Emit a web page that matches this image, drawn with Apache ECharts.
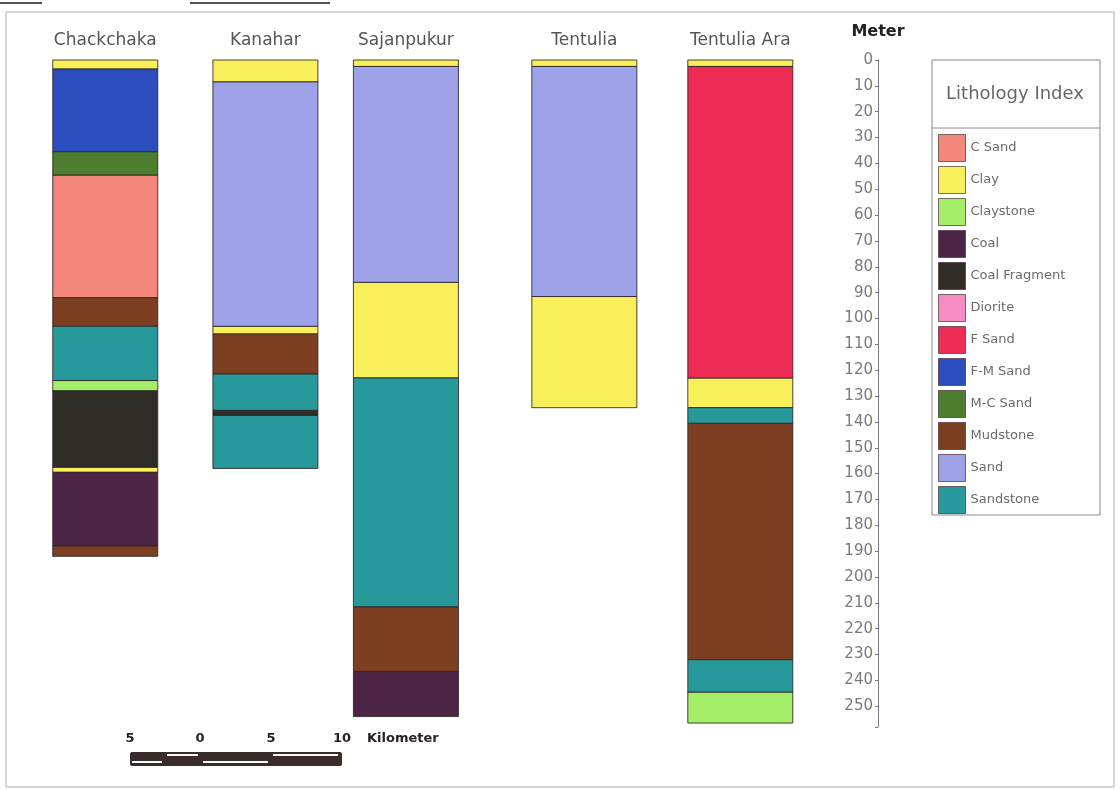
<!DOCTYPE html>
<html>
<head>
<meta charset="utf-8">
<title>Borehole Lithology Section</title>
<script src="https://cdn.jsdelivr.net/npm/echarts@6/dist/echarts.min.js"></script>
<style>
  html, body { margin: 0; padding: 0; background: #ffffff; }
  #chart { width: 1120px; height: 790px; }
</style>
</head>
<body>
<div id="chart"></div>
<script>
// Boreholes along the section and their distance along the profile (km)
const boreholes = ['Chackchaka', 'Kanahar', 'Sajanpukur', 'Tentulia', 'Tentulia Ara'];
const distanceKm = [0, 11.4, 21.4, 34.1, 45.2];

// Lithology index (legend order)
const lithologies = ['C Sand', 'Clay', 'Claystone', 'Coal', 'Coal Fragment', 'Diorite',
  'F Sand', 'F-M Sand', 'M-C Sand', 'Mudstone', 'Sand', 'Sandstone'];
const lithologyColors = ['#f4877c', '#f8f05a', '#a4ee6a', '#4b2446', '#302c28', '#f58cc3',
  '#ee2c55', '#2c4dbd', '#4d7d2e', '#7c3f22', '#9da2e9', '#27999a'];

// Units from top to bottom, with boundary depths in metres (one more depth than units)
const chackchakaUnits = ['Clay', 'F-M Sand', 'M-C Sand', 'C Sand', 'Mudstone', 'Sandstone',
  'Claystone', 'Coal Fragment', 'Clay', 'Coal', 'Mudstone'];
const chackchakaDepths = [0, 3.5, 35.5, 44.5, 92, 103, 124, 128, 157.5, 159.5, 188, 192];

const kanaharUnits = ['Clay', 'Sand', 'Clay', 'Mudstone', 'Sandstone', 'Coal Fragment', 'Sandstone'];
const kanaharDepths = [0, 8.5, 103, 106, 121.5, 135.5, 137.5, 158];

const sajanpukurUnits = ['Clay', 'Sand', 'Clay', 'Sandstone', 'Mudstone', 'Coal'];
const sajanpukurDepths = [0, 2.5, 86, 123, 211.5, 236.5, 254];

const tentuliaUnits = ['Clay', 'Sand', 'Clay'];
const tentuliaDepths = [0, 2.5, 91.5, 134.5];

const tentuliaAraUnits = ['Clay', 'F Sand', 'Clay', 'Sandstone', 'Mudstone', 'Sandstone', 'Claystone'];
const tentuliaAraDepths = [0, 2.5, 123, 134.5, 140.5, 232, 244.5, 256.5];

// Depth axis
const depthMax = 258;
const depthStep = 10;

// Scale bar labels (km)
const scaleBarLabels = ['5', '0', '5', '10'];

const logs = [
  [chackchakaUnits, chackchakaDepths],
  [kanaharUnits, kanaharDepths],
  [sajanpukurUnits, sajanpukurDepths],
  [tentuliaUnits, tentuliaDepths],
  [tentuliaAraUnits, tentuliaAraDepths]
];

const COLUMN_WIDTH = 105;
const LAYER_STROKE = 'rgba(45,35,35,0.85)';

// Gather every layer into its lithology series: [distance, top, bottom]
const layersByLithology = lithologies.map(() => []);
logs.forEach(([units, depths], b) => {
  units.forEach((u, i) => {
    const li = lithologies.indexOf(u);
    layersByLithology[li].push([distanceKm[b], depths[i], depths[i + 1]]);
  });
});

function renderLayer(params, api) {
  const x = api.value(0);
  const p0 = api.coord([x, api.value(1)]);
  const p1 = api.coord([x, api.value(2)]);
  return {
    type: 'rect',
    shape: { x: p0[0] - COLUMN_WIDTH / 2, y: p0[1], width: COLUMN_WIDTH, height: p1[1] - p0[1] },
    style: { fill: api.visual('color'), stroke: LAYER_STROKE, lineWidth: 1 }
  };
}

function renderTitle(params, api) {
  const p = api.coord([api.value(0), 0]);
  return {
    type: 'text',
    x: p[0],
    y: p[1] - 19,
    style: {
      text: boreholes[api.value(1)],
      align: 'center',
      verticalAlign: 'middle',
      font: '17px "DejaVu Sans", sans-serif',
      fill: '#555555'
    }
  };
}

const series = lithologies.map((name, i) => ({
  name: name,
  type: 'custom',
  coordinateSystem: 'cartesian2d',
  renderItem: renderLayer,
  itemStyle: { color: lithologyColors[i] },
  encode: { x: 0, y: [1, 2] },
  data: layersByLithology[i],
  clip: false,
  silent: true
}));

series.push({
  name: 'Boreholes',
  type: 'custom',
  coordinateSystem: 'cartesian2d',
  renderItem: renderTitle,
  encode: { x: 0, y: 1 },
  data: distanceKm.map((d, i) => [d, i]),
  clip: false,
  silent: true
});

// Scale bar geometry (pixels)
const sbX = 130, sbY = 752, sbW = 212, sbH = 14;
const sbTickX = [130, 200, 271, 342];

const graphics = [
  // outer frame
  { type: 'rect', shape: { x: 6, y: 12, width: 1108, height: 775 },
    style: { fill: null, stroke: '#aaaaaa', lineWidth: 1 }, silent: true },
  { type: 'line', shape: { x1: 0, y1: 3, x2: 42, y2: 3 }, style: { stroke: '#555', lineWidth: 2 }, silent: true },
  { type: 'line', shape: { x1: 190, y1: 3, x2: 330, y2: 3 }, style: { stroke: '#555', lineWidth: 2 }, silent: true },
  // legend frame
  { type: 'rect', shape: { x: 932, y: 60, width: 168, height: 455 },
    style: { fill: null, stroke: '#8a8a8a', lineWidth: 1 }, silent: true },
  { type: 'line', shape: { x1: 932, y1: 128, x2: 1100, y2: 128 },
    style: { stroke: '#8a8a8a', lineWidth: 1 }, silent: true },
  { type: 'text', x: 1015, y: 94, silent: true,
    style: { text: 'Lithology Index', align: 'center', verticalAlign: 'middle',
      font: '18px "DejaVu Sans", sans-serif', fill: '#666666' } },
  // scale bar
  { type: 'rect', shape: { x: sbX, y: sbY, width: sbW, height: sbH, r: 2 },
    style: { fill: '#3a2c2a' }, silent: true },
  { type: 'rect', shape: { x: 132, y: 761, width: 30, height: 2 }, style: { fill: '#ffffff' }, silent: true },
  { type: 'rect', shape: { x: 167, y: 754, width: 31, height: 2 }, style: { fill: '#ffffff' }, silent: true },
  { type: 'rect', shape: { x: 203, y: 761, width: 65, height: 2 }, style: { fill: '#ffffff' }, silent: true },
  { type: 'rect', shape: { x: 273, y: 754, width: 65, height: 2 }, style: { fill: '#ffffff' }, silent: true },
  { type: 'text', x: 367, y: 739, silent: true,
    style: { text: 'Kilometer', align: 'left', verticalAlign: 'middle',
      font: 'bold 13px "DejaVu Sans", sans-serif', fill: '#2a2222' } }
];
scaleBarLabels.forEach((t, i) => {
  graphics.push({ type: 'text', x: sbTickX[i], y: 739, silent: true,
    style: { text: t, align: 'center', verticalAlign: 'middle',
      font: 'bold 13px "DejaVu Sans", sans-serif', fill: '#2a2222' } });
});

const chart = echarts.init(document.getElementById('chart'), null, { renderer: 'canvas' });
chart.setOption({
  backgroundColor: '#ffffff',
  animation: false,
  grid: { left: 35, right: 242, top: 60, height: depthMax * 2.585 },
  xAxis: { type: 'value', min: -5, max: 55, show: false },
  yAxis: {
    type: 'value',
    inverse: true,
    min: 0,
    max: depthMax,
    interval: depthStep,
    position: 'right',
    name: 'Meter',
    nameLocation: 'start',
    nameGap: 20,
    nameTextStyle: { fontFamily: '"DejaVu Sans", sans-serif', fontWeight: 'bold', fontSize: 16,
      color: '#222222', align: 'center' },
    axisLine: { show: true, onZero: false, lineStyle: { color: '#7a7a86', width: 1 } },
    axisTick: { show: true, inside: true, length: 3, lineStyle: { color: '#7a7a86' } },
    axisLabel: {
      inside: true,
      margin: 5,
      fontFamily: '"DejaVu Sans", sans-serif',
      fontSize: 15,
      color: '#7a7a7a',
      formatter: v => (v % depthStep === 0 ? String(v) : '')
    },
    splitLine: { show: false }
  },
  legend: {
    data: lithologies,
    orient: 'vertical',
    left: 938,
    top: 134,
    padding: 0,
    itemWidth: 27,
    itemHeight: 27,
    itemGap: 4,
    icon: 'rect',
    selectedMode: false,
    itemStyle: { borderColor: 'rgba(70,50,50,0.7)', borderWidth: 1 },
    textStyle: { fontFamily: '"DejaVu Sans", sans-serif', fontSize: 13, color: '#6a6a6a' }
  },
  graphic: graphics,
  series: series
});
</script>
</body>
</html>
